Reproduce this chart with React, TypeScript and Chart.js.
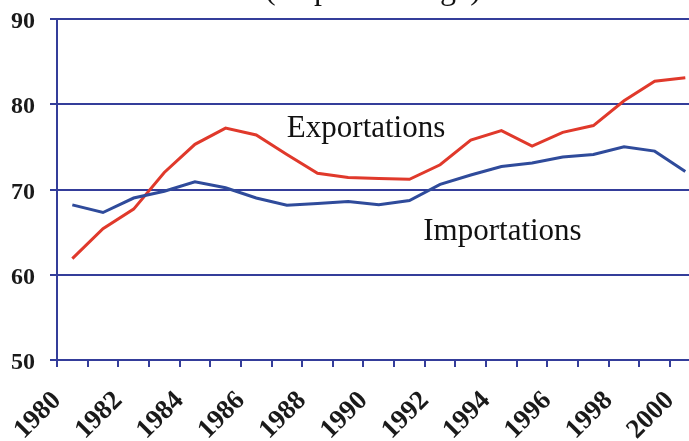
import { useEffect, useRef } from "react";
import { Chart, registerables } from "chart.js";

Chart.register(...registerables);

// Years (each value is plotted at mid-year, between the yearly tick marks)
const years = [
  1980, 1981, 1982, 1983, 1984, 1985, 1986, 1987, 1988, 1989, 1990,
  1991, 1992, 1993, 1994, 1995, 1996, 1997, 1998, 1999, 2000,
];
const exportations = [
  61.9, 65.4, 67.7, 72.0, 75.3, 77.2, 76.4, 74.1, 71.9, 71.4, 71.3,
  71.2, 72.9, 75.8, 76.9, 75.1, 76.7, 77.5, 80.4, 82.7, 83.1,
];
const importations = [
  68.2, 67.3, 69.0, 69.8, 70.9, 70.2, 69.0, 68.15, 68.35, 68.6, 68.2,
  68.7, 70.6, 71.7, 72.7, 73.1, 73.8, 74.1, 75.0, 74.5, 72.1,
];
const yMin = 50;
const yMax = 90;
const yStep = 10;
const xMin = 1980;
const xMax = 2000.62;

const titleText = "(en pourcentage)";
const exportLabel = "Exportations";
const importLabel = "Importations";
// annotation anchors, in data units (left edge / baseline of the text)
const exportLabelPos = { x: 1987.5, y: 76.1 };
const importLabelPos = { x: 1991.95, y: 64.1 };

const NAVY = "#343d9a";
const RED = "#e0392b";
const BLUE = "#2f4b9b";
const SERIF = "'Liberation Serif', 'Times New Roman', serif";

const textPlugin = {
  id: "annotTexts",
  afterDraw(chart: any) {
    const { ctx, chartArea, scales } = chart;
    const x = scales.x;
    const y = scales.y;
    ctx.save();
    ctx.fillStyle = "#111111";
    ctx.textBaseline = "alphabetic";
    ctx.textAlign = "left";
    ctx.font = `31px ${SERIF}`;
    ctx.fillText(exportLabel, x.getPixelForValue(exportLabelPos.x), y.getPixelForValue(exportLabelPos.y));
    ctx.fillText(importLabel, x.getPixelForValue(importLabelPos.x), y.getPixelForValue(importLabelPos.y));
    ctx.font = `32px ${SERIF}`;
    ctx.textAlign = "center";
    ctx.fillText(titleText, (chartArea.left + chartArea.right) / 2, -1);
    ctx.restore();
  },
};

export default function App() {
  const canvasRef = useRef<HTMLCanvasElement | null>(null);

  useEffect(() => {
    if (!canvasRef.current) return;
    const chart = new Chart(canvasRef.current, {
      type: "line",
      data: {
        datasets: [
          {
            label: importLabel,
            data: years.map((yr, i) => ({ x: yr + 0.5, y: importations[i] })),
            borderColor: BLUE,
            borderWidth: 3,
            pointRadius: 0,
            tension: 0,
            fill: false,
          },
          {
            label: exportLabel,
            data: years.map((yr, i) => ({ x: yr + 0.5, y: exportations[i] })),
            borderColor: RED,
            borderWidth: 3,
            pointRadius: 0,
            tension: 0,
            fill: false,
          },
        ],
      },
      options: {
        animation: false,
        responsive: false,
        maintainAspectRatio: false,
        devicePixelRatio: 1,
        layout: { padding: { top: 19, left: 0, right: 0, bottom: 0 } },
        plugins: {
          legend: { display: false },
          tooltip: { enabled: false },
          title: { display: false },
        },
        scales: {
          x: {
            type: "linear",
            min: xMin,
            max: xMax,
            afterFit(s: any) {
              s.height = 81;
              s.paddingLeft = 0;
              s.paddingRight = 0;
            },
            grid: {
              display: true,
              drawOnChartArea: false,
              drawTicks: true,
              tickLength: 7,
              color: NAVY,
              lineWidth: 2,
            },
            border: { display: true, color: NAVY, width: 2 },
            ticks: {
              stepSize: 1,
              includeBounds: false,
              autoSkip: false,
              minRotation: 45,
              maxRotation: 45,
              padding: 18,
              color: "#1a1a1a",
              font: { family: SERIF, size: 27, weight: "bold" },
              callback: (v: any) => (Number(v) % 2 === 0 ? String(v) : ""),
            },
          },
          y: {
            min: yMin,
            max: yMax,
            afterFit(s: any) {
              s.width = 57;
              s.paddingTop = 0;
              s.paddingBottom = 0;
            },
            grid: {
              color: NAVY,
              lineWidth: 2,
              tickLength: 7,
              drawTicks: true,
            },
            border: { display: true, color: NAVY, width: 2 },
            ticks: {
              stepSize: yStep,
              padding: 15,
              labelOffset: 3,
              color: "#1a1a1a",
              font: { family: SERIF, size: 24, weight: "bold" },
            },
          },
        },
      } as any,
      plugins: [textPlugin],
    });
    return () => chart.destroy();
  }, []);

  return (
    <div style={{ position: "fixed", left: 0, top: 0, width: 689, height: 441, background: "#ffffff" }}>
      <canvas ref={canvasRef} width={689} height={441} style={{ width: 689, height: 441, display: "block" }} />
    </div>
  );
}
